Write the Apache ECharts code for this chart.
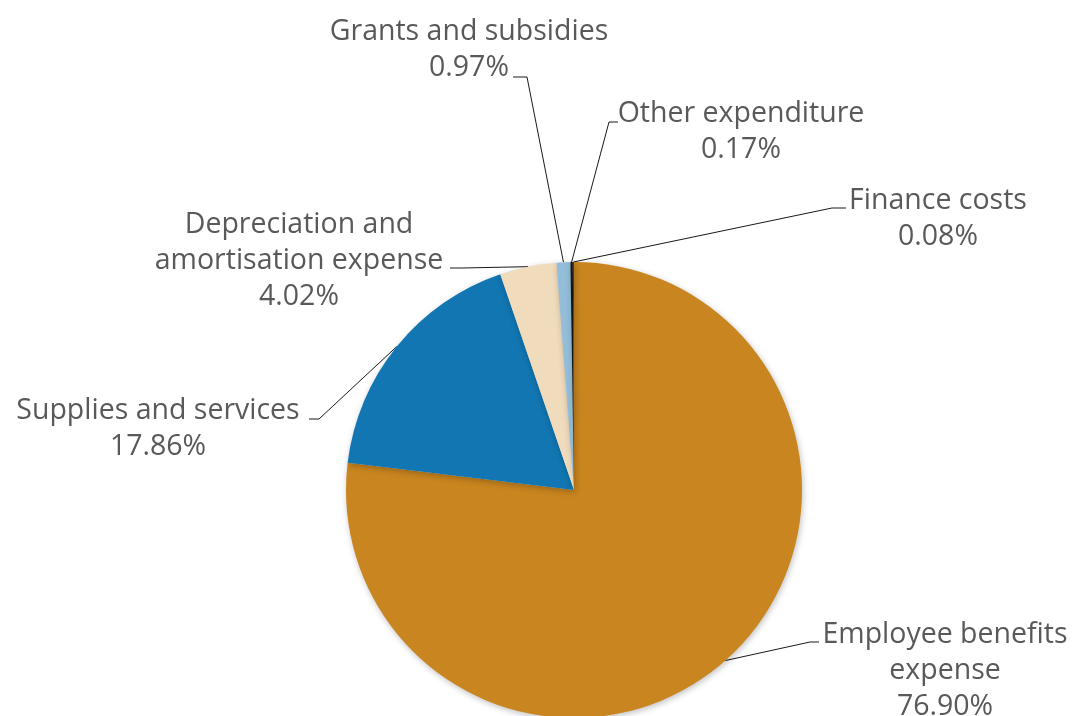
<!DOCTYPE html>
<html>
<head>
<meta charset="utf-8">
<script src="https://cdn.jsdelivr.net/npm/echarts@6/dist/echarts.min.js"></script>
<style>
  html, body { margin: 0; padding: 0; background: #ffffff; }
  #chart { width: 1072px; height: 716px; }
</style>
</head>
<body>
<div id="chart"></div>
<script>
// Expenditure breakdown, share of total (%)
const categories = [
  'Employee benefits\nexpense',
  'Supplies and services',
  'Depreciation and\namortisation expense',
  'Grants and subsidies',
  'Other expenditure',
  'Finance costs'
];
const shares = [76.90, 17.86, 4.02, 0.97, 0.17, 0.08];
const sliceColors = ['#C9851F', '#1176B1', '#F0DBBD', '#93BDD8', '#141414', '#3A3A3A'];

// Label block centres and leader-line attachment points (pixels)
const labelPlacement = [
  { x: 945, y: 671, elbow: [810, 642], end: [819, 642] },
  { x: 158, y: 429, elbow: [319, 419], end: [309, 419] },
  { x: 299, y: 261, elbow: [462, 268], end: [450, 268] },
  { x: 469, y: 50,  elbow: [527, 77],  end: [513, 77] },
  { x: 741, y: 132, elbow: [609, 122], end: [618, 122] },
  { x: 938, y: 219, elbow: [832, 208], end: [846, 208] }
];

const pieData = categories.map((name, i) => ({
  name: name,
  value: shares[i],
  itemStyle: { color: sliceColors[i] }
}));

const chart = echarts.init(document.getElementById('chart'), null, { renderer: 'canvas' });

chart.setOption({
  backgroundColor: '#ffffff',
  animation: false,
  series: [{
    type: 'pie',
    center: [574, 490],
    radius: 228,
    startAngle: 90,
    clockwise: true,
    avoidLabelOverlap: false,
    data: pieData,
    itemStyle: {
      borderWidth: 0,
      shadowBlur: 6,
      shadowColor: 'rgba(0,0,0,0.25)',
      shadowOffsetX: 1,
      shadowOffsetY: 2
    },
    label: {
      show: true,
      position: 'outside',
      formatter: p => p.name + '\n' + p.value.toFixed(2) + '%',
      color: '#595959',
      fontFamily: 'Open Sans',
      fontSize: 28.5,
      lineHeight: 36,
      align: 'center'
    },
    labelLine: {
      show: true,
      length: 10,
      length2: 10,
      lineStyle: { color: '#1a1a1a', width: 1 }
    },
    labelLayout: function (params) {
      const p = labelPlacement[params.dataIndex];
      const out = { x: p.x, y: p.y, align: 'center', verticalAlign: 'middle' };
      if (params.labelLinePoints && params.labelLinePoints.length) {
        out.labelLinePoints = [params.labelLinePoints[0], p.elbow, p.end];
      }
      return out;
    },
    emphasis: { disabled: true }
  }]
});
</script>
</body>
</html>
